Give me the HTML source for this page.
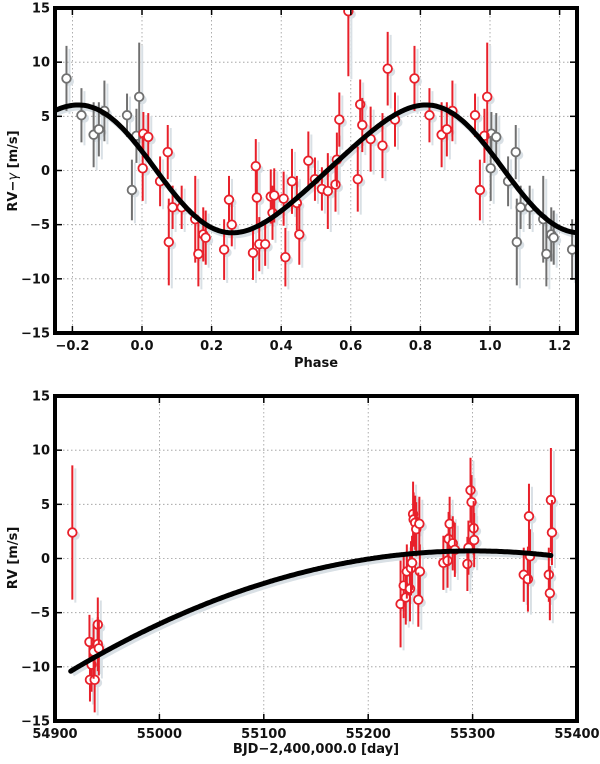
<!DOCTYPE html>
<html><head><meta charset="utf-8"><style>
html,body{margin:0;padding:0;background:#fff;}
svg text{font-family:"DejaVu Sans","Liberation Sans",sans-serif;font-weight:bold;font-size:13px;fill:#111;}
</style></head><body>
<svg id="chart" width="600" height="759" xmlns="http://www.w3.org/2000/svg"></svg>
<script>
// ---- Top panel data (phase-folded RV) ----
const phaseVals = [0.004,0.002,0.018,0.052,0.074,0.077,0.088,0.114,0.153,0.162,0.176,0.183,0.236,0.250,0.258,0.319,0.327,0.330,0.337,0.354,0.370,0.375,0.380,0.407,0.412,0.431,0.445,0.452,0.478,0.497,0.517,0.534,0.556,0.560,0.567,0.593,0.620,0.627,0.633,0.657,0.691,0.706,0.727,0.783,0.826,0.861,0.876,0.892,0.957,0.971,0.984,0.992];
const phaseRV   = [3.4,0.2,3.1,-1.0,1.7,-6.6,-3.4,-3.4,-4.5,-7.7,-5.9,-6.2,-7.3,-2.7,-5.0,-7.6,0.4,-2.5,-6.8,-6.8,-2.4,-3.9,-2.3,-2.6,-8.0,-1.0,-3.0,-5.9,0.9,-0.8,-1.7,-1.9,-1.3,1.0,4.7,14.7,-0.8,6.1,4.2,2.9,2.3,9.4,4.7,8.5,5.1,3.3,3.8,5.5,5.1,-1.8,3.2,6.8];
const phaseErr  = [2.0,3.0,2.2,2.3,2.5,4.0,2.0,2.0,4.0,3.0,2.5,2.5,2.8,2.2,2.0,2.5,2.5,2.5,2.5,2.0,2.5,2.5,2.5,2.5,2.7,3.0,2.5,2.8,2.7,2.0,2.0,3.5,2.5,2.5,2.5,6.0,3.0,2.3,2.5,3.0,3.0,3.4,2.5,3.0,2.5,3.0,2.5,2.8,2.0,2.8,2.5,5.0];
const phaseTicks = [-0.2,0.0,0.2,0.4,0.6,0.8,1.0,1.2];
const rvTicks = [-15,-10,-5,0,5,10,15];
// ---- Bottom panel data (time series) ----
const bjd = [54916.6,54933,54933.5,54935,54938,54937,54941,54941,54942,55231,55234,55236,55237,55240,55241,55242,55243,55243.5,55245,55246,55249,55249.5,55248,55272,55276,55277,55278,55281,55283,55295,55296,55298,55299,55301,55301.5,55349,55353,55354,55355,55373,55374,55375,55376];
const rv = [2.4,-7.7,-11.2,-9.8,-11.2,-8.6,-6.1,-7.9,-8.3,-4.2,-2.5,-3.6,-1.2,-2.8,-0.9,-0.4,4.1,3.6,3.3,2.7,3.2,-1.2,-3.8,-0.4,-0.2,1.8,3.2,1.4,0.8,-0.5,1.0,6.3,5.2,2.8,1.7,-1.5,-1.9,3.9,0.2,-1.5,-3.2,5.4,2.4];
const rvErr = [6.2,2.5,2.0,2.5,3.0,2.5,2.5,2.5,2.5,4.0,3.0,2.5,2.5,3.0,2.5,2.5,3.0,2.5,2.5,2.5,2.5,2.5,2.5,2.5,2.5,2.5,2.5,2.5,2.5,2.5,2.5,3.0,2.5,2.5,2.5,2.5,3.0,3.0,2.5,2.5,2.5,4.8,3.0];
const bjdTicks = [54900,55000,55100,55200,55300,55400];

const NS="http://www.w3.org/2000/svg";
const svg=document.getElementById('chart');
function el(tag,attrs,parent){const e=document.createElementNS(NS,tag);for(const k in attrs)e.setAttribute(k,attrs[k]);(parent||svg).appendChild(e);return e;}

function panel(o){
  const g=el('g',{});
  
  
  const sx=v=>o.L+(v-o.x0)/(o.x1-o.x0)*(o.R-o.L);
  const sy=v=>o.B-(v-o.y0)/(o.y1-o.y0)*(o.B-o.T);
  o.xt.forEach(t=>{const x=sx(t);if(x>o.L+2&&x<o.R-2){const l=el('line',{x1:x,x2:x,y1:o.T,y2:o.B,stroke:'#999','stroke-width':0.8,'stroke-dasharray':'1.5,2.5'},g);}});
  o.yt.forEach(t=>{const y=sy(t);if(y>o.T+2&&y<o.B-2){const l=el('line',{x1:o.L,x2:o.R,y1:y,y2:y,stroke:'#999','stroke-width':0.8,'stroke-dasharray':'1.5,2.5'},g);}});
  const pts=[];for(let i=0;i<=300;i++){const x=o.mx0+(o.mx1-o.mx0)*i/300;pts.push([sx(x),sy(o.model(x))]);}
  const d='M'+pts.map(p=>p[0].toFixed(1)+','+p[1].toFixed(1)).join('L');
  const cl=el('clipPath',{id:o.name+'-clip'},g);el('rect',{x:o.L,y:o.T,width:o.R-o.L,height:o.B-o.T},cl);
  const cg=el('g',{'clip-path':'url(#'+o.name+'-clip)'},g);
  const sh=el('path',{d:d,transform:'translate(2,3)',fill:'none',stroke:'#d9e0e5','stroke-width':5},cg);
  
  o.series.forEach(s=>{
    s.x.forEach((xv,i)=>{
      const x=sx(xv),y=sy(s.y[i]),e=s.e[i];
      el('line',{x1:x+3,x2:x+3,y1:sy(s.y[i]+e)+3,y2:sy(s.y[i]-e)+3,stroke:'#d9e0e5','stroke-width':2},cg);
      el('circle',{cx:x+3,cy:y+3,r:4.5,fill:'#d9e0e5'},cg);
    });
  });
  o.series.forEach(s=>{
    s.x.forEach((xv,i)=>{
      const x=sx(xv),y=sy(s.y[i]),e=s.e[i];
      const eb=el('line',{x1:x,x2:x,y1:sy(s.y[i]+e),y2:sy(s.y[i]-e),stroke:s.c,'stroke-width':2},cg);
      
      const c=el('circle',{cx:x,cy:y,r:4.3,fill:'#fff',stroke:s.c,'stroke-width':1.8},cg);
      
    });
  });
  const mp=el('path',{d:d,fill:'none',stroke:'#000','stroke-width':5,'stroke-linecap':'round'},cg);
  
  o.xt.forEach(t=>{const x=sx(t);
    el('line',{x1:x,x2:x,y1:o.B,y2:o.B-7,stroke:'#000','stroke-width':1.5},g);
    el('line',{x1:x,x2:x,y1:o.T,y2:o.T+7,stroke:'#000','stroke-width':1.5},g);
    const tx=el('text',{x:x,y:o.B+17,'text-anchor':'middle'},g);tx.textContent=o.xfmt(t);
    });
  o.yt.forEach(t=>{const y=sy(t);
    el('line',{x1:o.L,x2:o.L+7,y1:y,y2:y,stroke:'#000','stroke-width':1.5},g);
    el('line',{x1:o.R,x2:o.R-7,y1:y,y2:y,stroke:'#000','stroke-width':1.5},g);
    const tx=el('text',{x:o.L-5,y:y+4.5,'text-anchor':'end'},g);tx.textContent=String(t).replace('-','\u2212');
    });
  const fr=el('rect',{x:o.L,y:o.T,width:o.R-o.L,height:o.B-o.T,fill:'none',stroke:'#000','stroke-width':4},g);
  
  return g;
}

const K=5.8,A=0.55,P0=0.788,OFF=0.15;
function phaseModel(p){const th=2*Math.PI*(p-P0);return OFF+K*Math.cos(th)+A*Math.sin(2*th);}
const grayX=[],grayY=[],grayE=[];
phaseVals.forEach((p,i)=>{
  if(p+1<=1.245){grayX.push(p+1);grayY.push(phaseRV[i]);grayE.push(phaseErr[i]);}
  if(p-1>=-0.245){grayX.push(p-1);grayY.push(phaseRV[i]);grayE.push(phaseErr[i]);}
});
panel({name:'phase-panel',L:55,R:577,T:8,B:333,x0:-0.25,x1:1.25,y0:-15,y1:15,
  xt:phaseTicks,yt:rvTicks,xfmt:t=>t.toFixed(1).replace('-','\u2212'),
  mx0:-0.25,mx1:1.25,model:phaseModel,
  series:[{x:grayX,y:grayY,e:grayE,c:'#707070'},{x:phaseVals,y:phaseRV,e:phaseErr,c:'#e8202a'}]});
function trend(t){return 0.7-7.49e-5*(t-55300)*(t-55300);}
panel({name:'time-panel',L:55,R:577,T:396,B:721,x0:54900,x1:55400,y0:-15,y1:15,
  xt:bjdTicks,yt:rvTicks,xfmt:t=>String(t),
  mx0:54915,mx1:55375,model:trend,
  series:[{x:bjd,y:rv,e:rvErr,c:'#e8202a'}]});

let t=el('text',{x:316,y:367,'text-anchor':'middle'});t.textContent='Phase';

t=el('text',{x:316,y:753,'text-anchor':'middle'});t.textContent='BJD\u22122,400,000.0 [day]';

t=el('text',{x:0,y:0,'text-anchor':'middle',transform:'translate(17,171) rotate(-90)'});
t.innerHTML='RV\u2212<tspan font-style="italic" font-weight="normal">\u03b3</tspan> [m/s]';

t=el('text',{x:0,y:0,'text-anchor':'middle',transform:'translate(17,558) rotate(-90)'});t.textContent='RV [m/s]';

</script>
</body></html>
